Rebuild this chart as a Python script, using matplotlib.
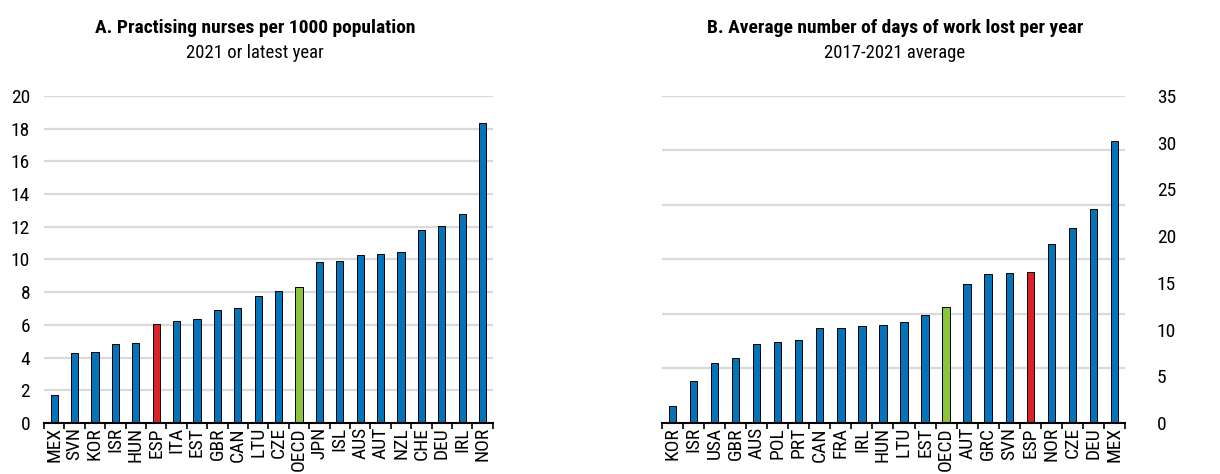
import matplotlib
matplotlib.use("Agg")
import matplotlib.pyplot as plt
import numpy as np
from matplotlib import font_manager

fams = {f.name for f in font_manager.fontManager.ttflist}
fam = "Liberation Sans"
for cand in ["Liberation Sans Narrow", "Arial Narrow", "Roboto Condensed", "Open Sans Condensed"]:
    if cand in fams:
        fam = cand
        break
plt.rcParams['font.family'] = [fam, 'DejaVu Sans']

# Panel A data
a_countries = ["MEX", "SVN", "KOR", "ISR", "HUN", "ESP", "ITA", "EST", "GBR", "CAN", "LTU",
               "CZE", "OECD", "JPN", "ISL", "AUS", "AUT", "NZL", "CHE", "DEU", "IRL", "NOR"]
a_values = [1.73, 4.27, 4.33, 4.84, 4.90, 6.06, 6.25, 6.37, 6.94, 7.06, 7.79,
            8.10, 8.30, 9.85, 9.89, 10.29, 10.32, 10.44, 11.78, 12.04, 12.80, 18.37]

# Panel B data
b_countries = ["KOR", "ISR", "USA", "GBR", "AUS", "POL", "PRT", "CAN", "FRA", "IRL", "HUN",
               "LTU", "EST", "OECD", "AUT", "GRC", "SVN", "ESP", "NOR", "CZE", "DEU", "MEX"]
b_values = [1.85, 4.52, 6.41, 6.94, 8.47, 8.69, 8.83, 10.15, 10.18, 10.43, 10.47,
            10.82, 11.57, 12.46, 14.92, 15.95, 16.09, 16.20, 19.12, 20.83, 22.93, 30.15]

BLUE = "#0573ba"
RED = "#dc2127"
GREEN = "#8cc43f"
GRID = "#d9d9d9"

def colors_for(names):
    out = []
    for n in names:
        if n == "ESP":
            out.append(RED)
        elif n == "OECD":
            out.append(GREEN)
        else:
            out.append(BLUE)
    return out

fig = plt.figure(figsize=(12.2, 4.74), dpi=100)
axA = fig.add_axes([0.036, 0.1076, 0.368, 0.690])
axB = fig.add_axes([0.5426, 0.1076, 0.3795, 0.690])

def style(ax, names, vals, ymax, gridvals, right=False):
    x = np.arange(len(names))
    ax.bar(x, vals, width=0.35, color=colors_for(names), edgecolor="black", linewidth=0.7, zorder=3)
    ax.set_xlim(-0.5, len(names) - 0.5)
    ax.set_ylim(0, ymax)
    for g in gridvals:
        if g > 0:
            ax.axhline(g, color=GRID, linewidth=1.6, zorder=1)
    for s in ["top", "left", "right"]:
        ax.spines[s].set_visible(False)
    ax.spines["bottom"].set_linewidth(1.5)
    ax.spines["bottom"].set_zorder(4)
    ax.set_xticks(x)
    ax.set_xticklabels(names, rotation=90, fontsize=14)
    ax.tick_params(axis="x", which="major", length=0, pad=3)
    ax.set_xticks(np.arange(-0.5, len(names)), minor=True)
    ax.tick_params(axis="x", which="minor", length=4, width=1.2, direction="out")
    ax.tick_params(axis="y", length=0, labelsize=14)
    if right:
        ax.yaxis.tick_right()
        ax.tick_params(axis="y", pad=23)

style(axA, a_countries, a_values, 20, np.arange(0, 21, 2))
axA.set_yticks(np.arange(0, 21, 2))
axA.tick_params(axis="y", pad=10)

style(axB, b_countries, b_values, 35, np.linspace(0, 35, 7), right=True)
axB.set_yticks(np.arange(0, 36, 5))

fig.text(0.209, 0.930, "A. Practising nurses per 1000 population", ha="center", fontsize=14, fontweight="bold")
fig.text(0.209, 0.878, "2021 or latest year", ha="center", fontsize=13.5)
fig.text(0.7336, 0.930, "B. Average number of days of work lost per year", ha="center", fontsize=14, fontweight="bold")
fig.text(0.7336, 0.878, "2017-2021 average", ha="center", fontsize=13.5)

fig.savefig("out.png", dpi=100)
